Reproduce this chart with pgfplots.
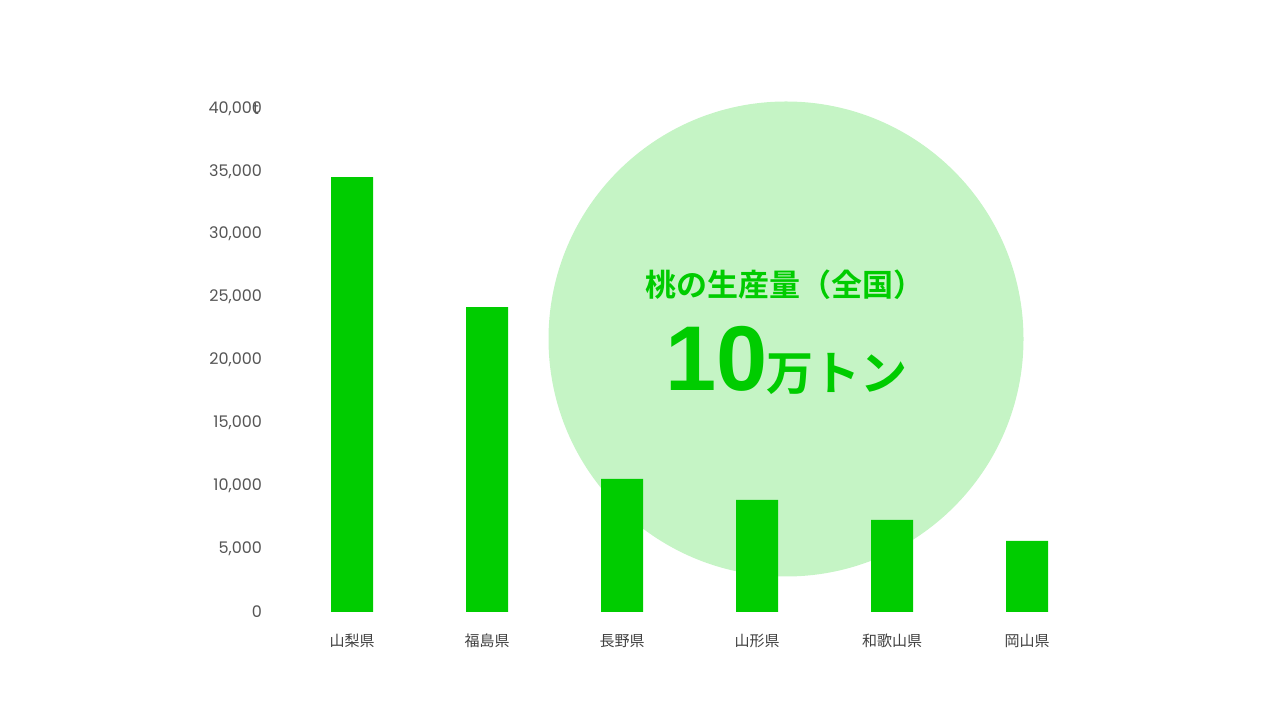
\documentclass[border=0pt]{standalone}
\usepackage{pgfplots}
\pgfplotsset{compat=1.18}
\usepackage{fontspec}
\setmainfont{Poppins}
\newfontfamily\jp{Noto Sans CJK JP}
\newfontfamily\jpb{Noto Sans CJK JP Bold}
\newfontfamily\numb{Liberation Sans}[BoldFont=* Bold]
\definecolor{barg}{HTML}{00CC00}
\definecolor{circg}{HTML}{C5F4C5}
\definecolor{tickg}{HTML}{555555}
\begin{document}
\begin{tikzpicture}[x=1pt,y=1pt]
\path[use as bounding box] (0,0) rectangle (1280,720);
\fill[circg] (786,381) circle (237.5);
\node[barg, font=\jpb\fontsize{31}{33}\selectfont] at (785,435) {桃の生産量（全国）};
\node[barg, anchor=base west, inner sep=0, font=\numb\bfseries\fontsize{92}{92}\selectfont] at (665,329) {10};
\node[barg, anchor=base west, inner sep=0, font=\jpb\fontsize{47}{47}\selectfont] at (766,329) {万トン};
\begin{axis}[
  anchor=south west, at={(284.5pt,108pt)},
  scale only axis, width=810pt, height=503pt,
  xmin=-0.5, xmax=5.5, ymin=0, ymax=40000,
  axis line style={draw=none},
  major tick length=0pt,
  ybar, bar width=42pt,
  xtick={0,1,2,3,4,5},
  xticklabels={山梨県,福島県,長野県,山形県,和歌山県,岡山県},
  xticklabel style={font=\jp\fontsize{15}{16}\selectfont, text=black!75, anchor=base, yshift=-35pt},
  ytick={0,5000,10000,15000,20000,25000,30000,35000,40000},
  yticklabel style={font=\fontsize{16}{17}\selectfont, text=tickg, anchor=east, xshift=-19pt, yshift=0.5pt},
  /pgf/number format/assume math mode=true,
  /pgf/number format/1000 sep={,},
  scaled y ticks=false,
  clip=false,
]
\addplot[fill=barg, draw=none] coordinates {(0,34590) (1,24250) (2,10580) (3,8910) (4,7320) (5,5650)};
\end{axis}
\node[text=tickg, font=\fontsize{16}{17}\selectfont] at (256,611) {t};
\end{tikzpicture}
\end{document}
